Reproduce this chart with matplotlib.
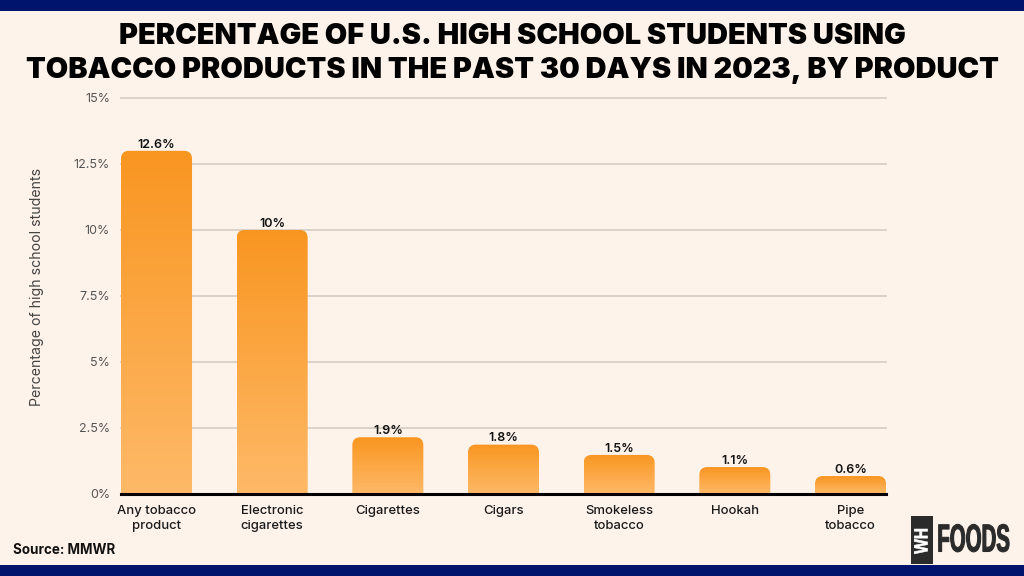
#!/usr/bin/env python3
import numpy as np
import matplotlib
matplotlib.use('Agg')
import matplotlib.pyplot as plt
from matplotlib.patches import FancyBboxPatch, Rectangle
from matplotlib.patheffects import AbstractPathEffect
from matplotlib.transforms import Affine2D
from matplotlib.colors import LinearSegmentedColormap

categories = ['Any tobacco\nproduct', 'Electronic\ncigarettes', 'Cigarettes', 'Cigars',
              'Smokeless\ntobacco', 'Hookah', 'Pipe\ntobacco']
# bar heights as drawn in the picture, these differ a bit from the printed labels
bar_heights = [13.0, 10.0, 2.15, 1.87, 1.48, 1.02, 0.68]
value_labels = ['12.6%', '10%', '1.9%', '1.8%', '1.5%', '1.1%', '0.6%']
y_ticks = [0, 2.5, 5, 7.5, 10, 12.5, 15]
y_tick_labels = ['0%', '2.5%', '5%', '7.5%', '10%', '12.5%', '15%']

W, H = 1024, 576
BG = '#FEF3EA'
NAVY = '#00146E'
LOGO = '#2B2B2B'
FONT = 'Inter'
LOGO_FONT = ['Liberation Sans', 'DejaVu Sans']

plt.rcParams['font.family'] = [FONT, 'DejaVu Sans']


class Stretch(AbstractPathEffect):
	# no condensed font here, so stretch the glyphs around a pixel position
	def __init__(self, cx, cy, sx, sy, stroke):
		super().__init__()
		self.stretch = Affine2D().translate(-cx, -cy).scale(sx, sy).translate(cx, cy)
		self.stroke = stroke

	def draw_path(self, renderer, gc, tpath, affine, rgbFace):
		gc0 = renderer.new_gc()
		gc0.copy_properties(gc)
		gc0.set_linewidth(self.stroke)
		gc0.set_foreground(rgbFace)
		renderer.draw_path(gc0, tpath, affine + self.stretch, rgbFace)
		gc0.restore()


fig = plt.figure(figsize=(W / 100, H / 100), dpi=100, facecolor=BG)

# navy bands top and bottom
fig.add_artist(Rectangle((0, 1 - 11 / H), 1, 11 / H, transform=fig.transFigure, color=NAVY, lw=0))
fig.add_artist(Rectangle((0, 0), 1, 11 / H, transform=fig.transFigure, color=NAVY, lw=0))

fig.text(512 / W, 1 - 36.5 / H, 'PERCENTAGE OF U.S. HIGH SCHOOL STUDENTS USING', ha='center', va='center',
         fontsize=20.85, fontweight='black', color='black')
fig.text(512 / W, 1 - 70.5 / H, 'TOBACCO PRODUCTS IN THE PAST 30 DAYS IN 2023, BY PRODUCT', ha='center', va='center',
         fontsize=20.85, fontweight='black', color='black')

ax = fig.add_axes([121 / W, 1 - 494 / H, (886 - 121) / W, (494 - 98) / H])
ax.set_facecolor('none')

x = np.arange(len(categories))
bar_w = 0.614

ax.set_yticks(y_ticks)
ax.set_yticklabels(y_tick_labels, fontsize=9, color='#555555')
ax.set_xticks(x)
ax.set_xticklabels(categories, fontsize=9.4, fontweight='medium', color='#1a1a1a', linespacing=1.35)
ax.tick_params(axis='both', length=0)
ax.tick_params(axis='y', pad=8)
ax.tick_params(axis='x', pad=8)
ax.grid(axis='y', color='#D8CFC6', lw=1.3, clip_on=False)
ax.set_axisbelow(True)
for side in ['top', 'right', 'left']:
	ax.spines[side].set_visible(False)
ax.spines['bottom'].set_color('black')
ax.spines['bottom'].set_linewidth(2.2)
ax.spines['bottom'].set_zorder(5)
ax.set_ylabel('Percentage of high school students', fontsize=10.2, color='#444444')
ax.yaxis.set_label_coords((44 - 121) / (886 - 121), 0.523)

# vertical gradient, dark orange on top and light at the bottom
cmap = LinearSegmentedColormap.from_list('bar', ['#F99621', '#FEB968'])
grad = np.linspace(0, 1, 256).reshape(-1, 1)
rad_x = 8 / 115.67
rad_y = 8 / 26.4
bars = ax.bar(x, bar_heights, width=bar_w, color='none', lw=0)
for bar, label in zip(bars, value_labels):
	bx, bw, bh = bar.get_x(), bar.get_width(), bar.get_height()
	# patch goes below zero so only the top corners stay rounded
	clip = FancyBboxPatch((bx, -1), bw, bh + 1, boxstyle='round,pad=0,rounding_size=%f' % rad_x,
	                      mutation_aspect=rad_y / rad_x, transform=ax.transData, fc='none', ec='none')
	ax.add_patch(clip)
	im = ax.imshow(grad, extent=(bx, bx + bw, 0, bh), aspect='auto', cmap=cmap, zorder=3, origin='upper')
	im.set_clip_path(clip)
	ax.text(bx + bw / 2, bh + 0.01, label, ha='center', va='bottom', fontsize=9, fontweight='semibold',
	        color='#111111', zorder=4)
ax.set_xlim(-bar_w / 2, len(categories) - 1 + bar_w / 2)
ax.set_ylim(0, 15)

fig.text(13 / W, 1 - 550 / H, 'Source: MMWR', ha='left', va='center', fontsize=9.7, fontweight='bold', color='#111111')

# logo
fig.add_artist(Rectangle((911 / W, 1 - 564 / H), 22 / W, 48 / H, transform=fig.transFigure, color=LOGO, lw=0))
wh = fig.text(922 / W, 1 - 541 / H, 'WH', rotation=90, ha='center', va='center', fontsize=11.2,
              fontweight='bold', color='white', family=LOGO_FONT)
wh.set_path_effects([Stretch(922, H - 541, 1.25, 1, 0.4)])
foods = fig.text(973.5 / W, 1 - 541 / H, 'FOODS', ha='center', va='center', fontsize=14.7,
                 fontweight='bold', color=LOGO, family=LOGO_FONT)
foods.set_path_effects([Stretch(973.5, H - 541, 1, 1.905, 0.8)])

fig.savefig('out.png', dpi=100, facecolor=BG)
